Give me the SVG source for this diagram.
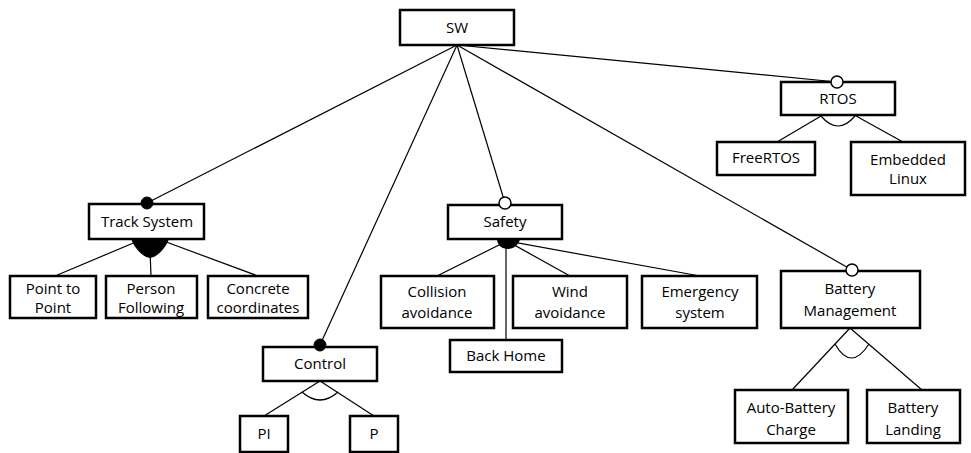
<svg xmlns="http://www.w3.org/2000/svg" width="971" height="453" viewBox="0 0 971 453">
  <style>
    .box { fill: #fff; stroke: #000; stroke-width: 2.5; }
    .lbl { font-family: "Open Sans", "Liberation Sans", sans-serif; font-size: 15px; fill: #000; text-anchor: middle; }
    .edge { stroke: #000; stroke-width: 1.2; fill: none; }
    .mand { fill: #000; stroke: #000; stroke-width: 1; }
    .opt { fill: #fff; stroke: #000; stroke-width: 1.5; }
    .alt { stroke: #000; stroke-width: 1.2; fill: none; }
    .orfill { fill: #000; stroke: none; }
  </style>

  <!-- connectors -->
  <g id="connectors">
    <!-- root to features -->
    <line class="edge" x1="457" y1="45" x2="147" y2="203"/>
    <line class="edge" x1="457" y1="45" x2="320" y2="345"/>
    <line class="edge" x1="457" y1="45" x2="505" y2="203"/>
    <line class="edge" x1="457" y1="45" x2="852" y2="270"/>
    <line class="edge" x1="457" y1="45" x2="837" y2="82"/>

    <!-- RTOS alternative group -->
    <line class="edge" x1="838" y1="106" x2="777" y2="142"/>
    <line class="edge" x1="838" y1="106" x2="903" y2="142"/>
    <path class="alt" d="M821,116 Q838,136 855,116"/>

    <!-- Track System or group -->
    <line class="edge" x1="150" y1="236" x2="55" y2="276"/>
    <line class="edge" x1="150" y1="236" x2="258" y2="276"/>
    <line class="edge" x1="150" y1="250" x2="151" y2="276"/>
    <path class="orfill" d="M131,239 L169,239 C166,247 158,257 150,258 C142,257 134,247 131,239 Z"/>

    <!-- Safety or group -->
    <line class="edge" x1="507" y1="241" x2="437" y2="276"/>
    <line class="edge" x1="506" y1="241" x2="506" y2="340"/>
    <line class="edge" x1="507" y1="241" x2="570" y2="276"/>
    <line class="edge" x1="507" y1="241" x2="700" y2="276"/>
    <path class="orfill" d="M497,239 L520,239 C519,245 513,249 508,249 C502,249 497,245 497,239 Z"/>

    <!-- Control alternative group -->
    <line class="edge" x1="320" y1="381" x2="264" y2="416"/>
    <line class="edge" x1="320" y1="381" x2="374" y2="416"/>
    <path class="alt" d="M302,392 Q320,408 338,392"/>

    <!-- Battery Management alternative group -->
    <line class="edge" x1="850" y1="328" x2="792" y2="390"/>
    <line class="edge" x1="850" y1="328" x2="922" y2="390"/>
    <path class="alt" d="M835,344 Q851,372 869,344"/>
  </g>

  <g id="sw">
    <rect class="box" x="400" y="10" width="114" height="35"/>
    <text class="lbl" x="457" y="33">SW</text>
  </g>

  <g id="rtos">
    <rect class="box" x="781" y="82" width="114" height="33"/>
    <circle class="opt" cx="837" cy="82" r="6"/>
    <text class="lbl" x="838" y="104">RTOS</text>
  </g>
  <g id="freertos">
    <rect class="box" x="717" y="142" width="98" height="33"/>
    <text class="lbl" x="766" y="163">FreeRTOS</text>
  </g>
  <g id="embedded-linux">
    <rect class="box" x="851" y="142" width="114" height="53"/>
    <text class="lbl" x="908" y="165">Embedded</text>
    <text class="lbl" x="908" y="184">Linux</text>
  </g>

  <g id="track-system">
    <rect class="box" x="89" y="204" width="115" height="35"/>
    <circle class="mand" cx="147" cy="203" r="6"/>
    <text class="lbl" x="147" y="227">Track System</text>
  </g>
  <g id="point-to-point">
    <rect class="box" x="10" y="276" width="86" height="42"/>
    <text class="lbl" x="53" y="294">Point to</text>
    <text class="lbl" x="53" y="313">Point</text>
  </g>
  <g id="person-following">
    <rect class="box" x="106" y="276" width="91" height="42"/>
    <text class="lbl" x="151" y="294">Person</text>
    <text class="lbl" x="151" y="313">Following</text>
  </g>
  <g id="concrete-coordinates">
    <rect class="box" x="208" y="276" width="100" height="42"/>
    <text class="lbl" x="258" y="294">Concrete</text>
    <text class="lbl" x="258" y="313">coordinates</text>
  </g>

  <g id="safety">
    <rect class="box" x="448" y="205" width="114" height="34"/>
    <circle class="opt" cx="505" cy="203" r="6"/>
    <text class="lbl" x="505" y="227">Safety</text>
  </g>
  <g id="collision-avoidance">
    <rect class="box" x="381" y="276" width="113" height="52"/>
    <text class="lbl" x="437" y="297">Collision</text>
    <text class="lbl" x="437" y="318">avoidance</text>
  </g>
  <g id="wind-avoidance">
    <rect class="box" x="513" y="276" width="114" height="52"/>
    <text class="lbl" x="570" y="297">Wind</text>
    <text class="lbl" x="570" y="318">avoidance</text>
  </g>
  <g id="emergency-system">
    <rect class="box" x="642" y="276" width="115" height="52"/>
    <text class="lbl" x="700" y="297">Emergency</text>
    <text class="lbl" x="700" y="318">system</text>
  </g>
  <g id="back-home">
    <rect class="box" x="450" y="340" width="112" height="32"/>
    <text class="lbl" x="506" y="361">Back Home</text>
  </g>

  <g id="control">
    <rect class="box" x="263" y="347" width="114" height="34"/>
    <circle class="mand" cx="320" cy="345" r="6"/>
    <text class="lbl" x="320" y="369">Control</text>
  </g>
  <g id="pi">
    <rect class="box" x="240" y="416" width="48" height="36"/>
    <text class="lbl" x="264" y="439">PI</text>
  </g>
  <g id="p">
    <rect class="box" x="350" y="416" width="48" height="36"/>
    <text class="lbl" x="374" y="439">P</text>
  </g>

  <g id="battery-management">
    <rect class="box" x="781" y="271" width="139" height="57"/>
    <circle class="opt" cx="852" cy="270" r="6"/>
    <text class="lbl" x="850" y="294">Battery</text>
    <text class="lbl" x="850" y="316">Management</text>
  </g>
  <g id="auto-battery-charge">
    <rect class="box" x="735" y="390" width="113" height="53"/>
    <text class="lbl" x="791" y="413">Auto-Battery</text>
    <text class="lbl" x="791" y="435">Charge</text>
  </g>
  <g id="battery-landing">
    <rect class="box" x="867" y="390" width="93" height="53"/>
    <text class="lbl" x="913" y="413">Battery</text>
    <text class="lbl" x="913" y="435">Landing</text>
  </g>
</svg>
